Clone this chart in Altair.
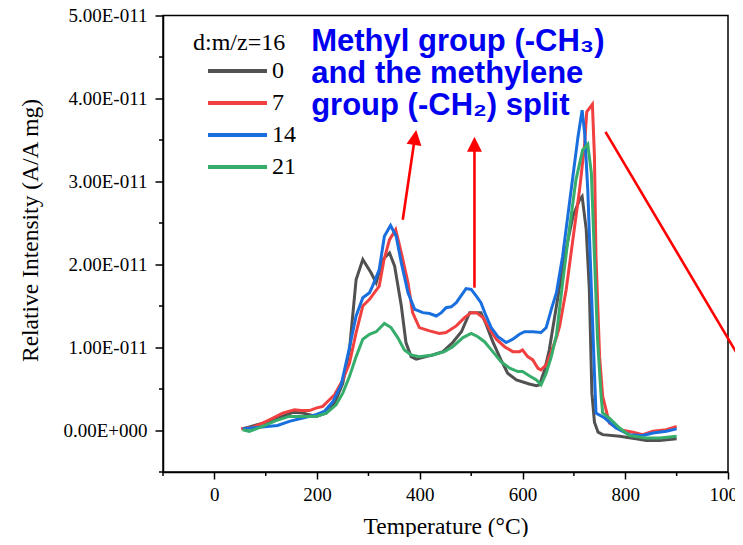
import altair as alt
import pandas as pd

# ---- data (intensity values in units of 1e-11 A/A mg) ----
series_names = ["0", "7", "14", "21"]
series_colors = ["#515151", "#F14040", "#1A6FDF", "#37AD6B"]

temp_0 = [55, 107, 153, 172, 198, 218, 234, 250, 263, 276, 289, 305, 315, 328, 341, 351, 364, 373, 383, 393,
          412, 425, 445, 464, 481, 497, 519, 529, 542, 558, 571, 588, 613, 627, 633, 643, 652, 666, 682, 698,
          711, 716, 724, 730, 735, 740, 747, 756, 789, 821, 841, 867, 900]
int_0 = [0.02, 0.11, 0.22, 0.21, 0.17, 0.21, 0.33, 0.57, 0.97, 1.82, 2.06, 1.90, 1.78, 2.06, 2.14, 1.98, 1.50, 1.06, 0.89, 0.86,
         0.89, 0.91, 0.95, 1.06, 1.19, 1.42, 1.42, 1.28, 1.07, 0.85, 0.69, 0.61, 0.56, 0.54, 0.55, 0.73, 0.97, 1.50, 2.10, 2.58,
         2.78, 2.82, 2.42, 1.70, 0.45, 0.10, -0.02, -0.05, -0.07, -0.10, -0.12, -0.12, -0.10]

temp_7 = [52, 75, 94, 114, 133, 156, 169, 185, 198, 211, 224, 234, 250, 263, 276, 289, 302, 321, 330, 341,
          353, 364, 377, 386, 399, 419, 438, 451, 471, 487, 500, 510, 523, 536, 549, 565, 581, 594, 600, 610,
          620, 630, 636, 646, 656, 666, 672, 685, 698, 711, 721, 725, 736, 740, 743, 750, 756, 769, 789, 815,
          834, 854, 880, 900]
int_7 = [0.02, 0.04, 0.09, 0.15, 0.21, 0.25, 0.24, 0.24, 0.27, 0.29, 0.37, 0.43, 0.61, 0.81, 1.18, 1.50, 1.58, 1.74, 2.05, 2.30,
         2.42, 2.14, 1.78, 1.42, 1.24, 1.20, 1.17, 1.18, 1.26, 1.36, 1.42, 1.42, 1.36, 1.22, 1.10, 1.01, 0.95, 0.95, 0.97, 0.89,
         0.85, 0.75, 0.73, 0.79, 0.95, 1.12, 1.25, 1.70, 2.30, 2.90, 3.46, 3.84, 3.93, 3.30, 2.10, 0.89, 0.41, 0.09, 0.01, -0.02,
         -0.05, -0.01, 0.01, 0.05]

temp_14 = [55, 88, 123, 146, 172, 198, 214, 231, 247, 253, 263, 276, 289, 302, 308, 321, 331, 343, 354, 364,
           377, 390, 406, 419, 432, 442, 451, 461, 471, 490, 500, 510, 519, 529, 539, 552, 568, 581, 594, 604,
           620, 636, 646, 656, 666, 678, 688, 698, 708, 716, 721, 727, 734, 740, 743, 760, 782, 808, 834, 854,
           880, 900]
int_14 = [0.02, 0.04, 0.06, 0.11, 0.15, 0.19, 0.23, 0.35, 0.55, 0.72, 1.00, 1.38, 1.60, 1.66, 1.74, 1.94, 2.34, 2.47, 2.34, 2.02,
          1.66, 1.46, 1.42, 1.41, 1.38, 1.42, 1.48, 1.49, 1.54, 1.71, 1.70, 1.62, 1.54, 1.38, 1.24, 1.13, 1.06, 1.10, 1.16, 1.19,
          1.19, 1.18, 1.24, 1.46, 1.66, 2.10, 2.58, 3.06, 3.54, 3.86, 3.58, 2.90, 1.70, 0.69, 0.21, 0.15, 0.03, -0.05, -0.06, -0.03,
          -0.01, 0.02]

temp_21 = [55, 68, 94, 120, 146, 172, 198, 218, 237, 250, 263, 276, 289, 302, 315, 331, 344, 357, 370, 383,
           399, 425, 448, 464, 484, 500, 513, 526, 542, 558, 575, 591, 600, 613, 627, 636, 646, 656, 666, 678,
           691, 704, 717, 727, 734, 740, 746, 753, 756, 769, 789, 808, 841, 867, 900]
int_21 = [0.01, -0.01, 0.05, 0.12, 0.17, 0.17, 0.17, 0.21, 0.31, 0.45, 0.65, 0.89, 1.10, 1.16, 1.19, 1.29, 1.24, 1.12, 0.97, 0.91,
          0.89, 0.91, 0.95, 1.01, 1.12, 1.17, 1.13, 1.07, 0.95, 0.83, 0.75, 0.71, 0.71, 0.66, 0.61, 0.55, 0.69, 0.89, 1.15, 1.78,
          2.42, 3.02, 3.38, 3.45, 3.10, 2.10, 1.10, 0.41, 0.21, 0.15, 0.03, -0.06, -0.09, -0.09, -0.07]

# axis tick values
x_major = [0, 200, 400, 600, 800, 1000]
x_minor = [-100, 100, 300, 500, 700, 900]
y_major = [0, 1, 2, 3, 4, 5]
y_minor = [-0.5, 0.5, 1.5, 2.5, 3.5, 4.5]

# annotation text, arrows (data coordinates)
note_lines = ["Methyl group (-CH\u2083)", "and the methylene", "group (-CH\u2082) split"]
note_T = [188.5]
note_I = [4.573]
arrow_T = [366.8, 506.4, 761.5]
arrow_I = [2.539, 1.721, 3.598]
arrow_T2 = [389.6, 506.4, 1061.0]
arrow_I2 = [3.50, 3.43, 0.473]
head_T = [390.8, 506.4]
head_I = [3.53, 3.448]
head_angle = [8.5, 0.0]

E = 1e-11
X0, X1 = -100, 1000
Y0, Y1 = -0.5, 5.0
W, H = 565, 456.5
px_x = (X1 - X0) / W          # data units per pixel (x)
px_y = (Y1 - Y0) / H          # data units per pixel (y)

rows = []
for name, ts, vs in zip(series_names, [temp_0, temp_7, temp_14, temp_21], [int_0, int_7, int_14, int_21]):
    for i, (t, v) in enumerate(zip(ts, vs)):
        rows.append({"series": name, "T": t, "I": v * E, "idx": i})
df = pd.DataFrame(rows)

df_arrows = pd.DataFrame({"T": arrow_T, "I": [v * E for v in arrow_I],
                          "T2": arrow_T2, "I2": [v * E for v in arrow_I2]})
df_heads = pd.DataFrame({"T": head_T, "I": [v * E for v in head_I], "angle": head_angle})
df_note = pd.DataFrame({"T": note_T, "I": [v * E for v in note_I]})

# minor ticks (4 px long, outward)
df_yminor = pd.DataFrame({"T": [X0] * len(y_minor), "T2": [X0 - 4 * px_x] * len(y_minor),
                          "I": [v * E for v in y_minor]})
df_xminor = pd.DataFrame({"T": x_minor, "I": [Y0 * E] * len(x_minor),
                          "I2": [(Y0 - 4 * px_y) * E] * len(x_minor)})

FONT = "Liberation Serif"
x_scale = alt.Scale(domain=[X0, X1], nice=False, zero=False)
y_scale = alt.Scale(domain=[Y0 * E, Y1 * E], nice=False, zero=False)

x_axis = alt.Axis(
    values=x_major, format="d", tickSize=7,
    labelFontSize=19, labelPadding=6, labelFlush=False, labelOverlap=False,
    title="Temperature (\u00b0C)", titleFontSize=23.5, titleY=61, titleBaseline="alphabetic",
)
y_axis = alt.Axis(
    values=[v * E for v in y_major], tickSize=8,
    labelExpr="abs(datum.value) < 1e-15 ? '0.00E+000' : format(datum.value*1e11, '.2f') + 'E-011'",
    labelFontSize=19, labelPadding=8, labelFlush=False, labelOverlap=False,
    title="Relative Intensity (A/A mg)", titleFontSize=23.5, titleAngle=-90,
    titleX=-126, titleY=214.5, titleBaseline="alphabetic", titleAlign="center",
)


def X(field):
    return alt.X(field, type="quantitative", scale=x_scale, axis=x_axis)


def Y(field):
    return alt.Y(field, type="quantitative", scale=y_scale, axis=y_axis)


lines = alt.Chart(df).mark_line(strokeWidth=3).encode(
    x=X("T"),
    y=Y("I"),
    color=alt.Color("series:N", scale=alt.Scale(domain=series_names, range=series_colors),
                    sort=series_names,
                    legend=alt.Legend(
                        orient="none", legendX=30, legendY=15.5, padding=0,
                        title="d:m/z=16", titleFont=FONT, titleFontSize=24, titleFontWeight="normal",
                        titleColor="black", titlePadding=2,
                        labelFont=FONT, labelFontSize=24, labelColor="black",
                        symbolType="stroke", symbolSize=3481, symbolStrokeWidth=4,
                        symbolOffset=13, labelOffset=3, clipHeight=28, rowPadding=4)),
    order=alt.Order("idx:Q"),
)

yminor = alt.Chart(df_yminor).mark_rule(color="black", strokeWidth=1.5).encode(
    x=X("T"), x2="T2:Q", y=Y("I"),
)
xminor = alt.Chart(df_xminor).mark_rule(color="black", strokeWidth=1.5).encode(
    x=X("T"), y=Y("I"), y2="I2:Q",
)

rules = alt.Chart(df_arrows).mark_rule(color="#FF0000", strokeWidth=2.6).encode(
    x=X("T"), y=Y("I"), x2="T2:Q", y2="I2:Q",
)

heads = alt.Chart(df_heads).mark_point(shape="M0,-1L1,1L-1,1Z", filled=True, size=225,
                                       color="#FF0000", opacity=1).encode(
    x=X("T"), y=Y("I"),
    angle=alt.Angle("angle:Q", scale=None),
)

note = alt.Chart(df_note).mark_text(align="left", baseline="alphabetic", font="Liberation Sans",
                                    fontWeight="bold", fontSize=31, color="#0000F0",
                                    lineHeight=32).encode(
    x=X("T"), y=Y("I"),
    text=alt.value(note_lines),
)

chart = alt.layer(lines, yminor, xminor, rules, heads, note).properties(
    width=W, height=H,
    autosize=alt.AutoSizeParams(type="none"),
    padding={"left": 155, "top": 7.5, "right": 7, "bottom": 65},
).configure_view(stroke="black", strokeWidth=1.5).configure_axis(
    domainColor="black", domainWidth=1.5, tickColor="black", tickWidth=1.5,
    labelColor="black", titleColor="black", labelFont=FONT, titleFont=FONT,
    titleFontWeight="normal", grid=False,
)

chart.save("out.html", embed_options={"renderer": "svg", "actions": False})
